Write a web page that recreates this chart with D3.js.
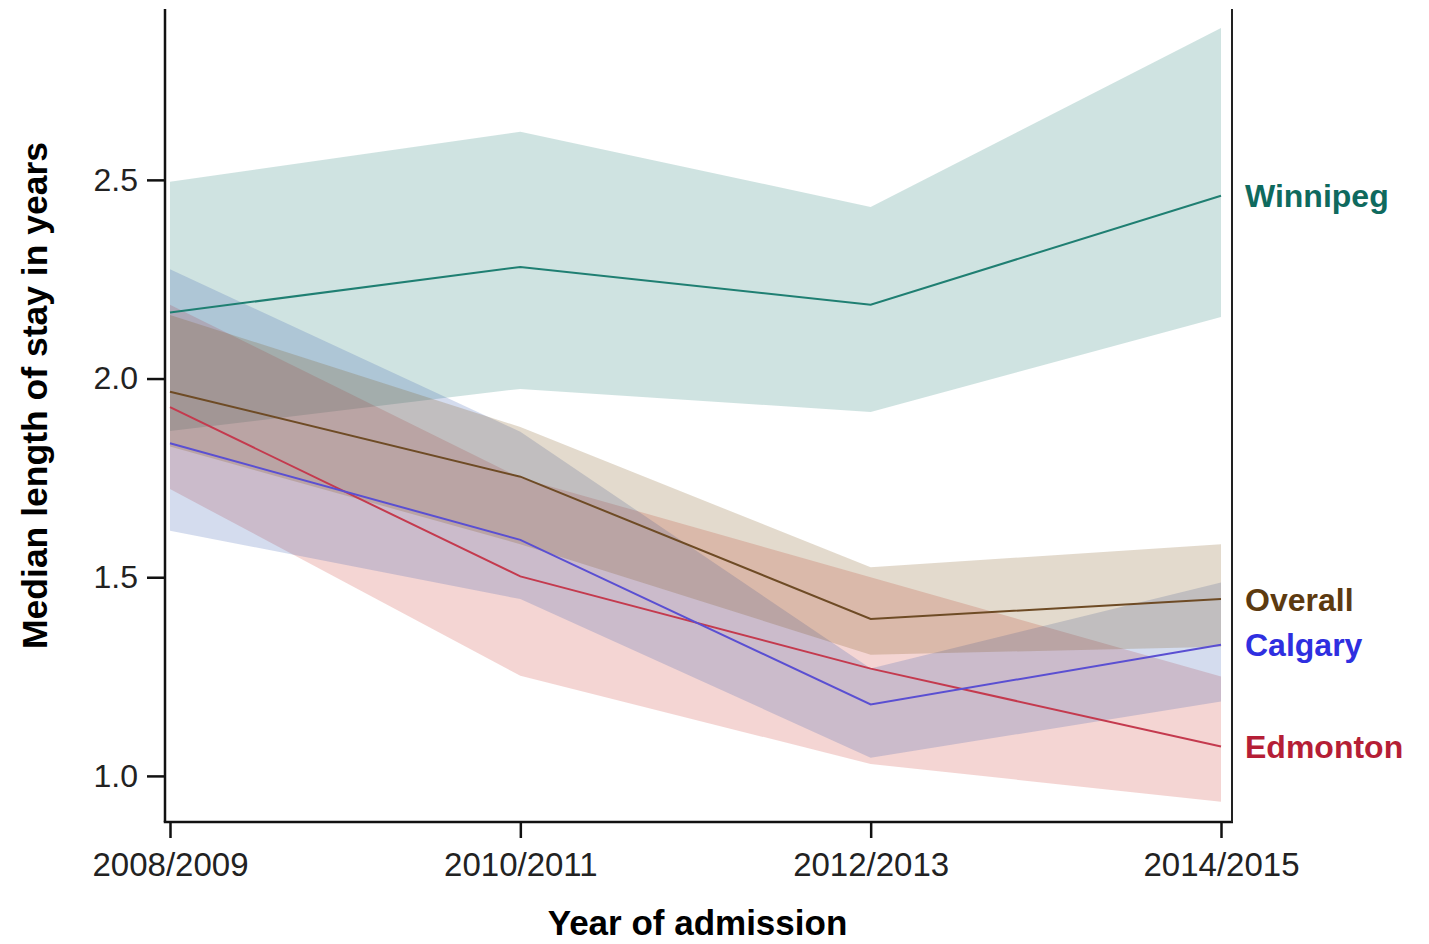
<!DOCTYPE html>
<html>
<head>
<meta charset="utf-8">
<script src="https://cdn.jsdelivr.net/npm/d3@7"></script>
<style>
  html, body { margin: 0; padding: 0; background: #fff; }
  svg { display: block; font-family: "Liberation Sans", Arial, sans-serif; }
</style>
</head>
<body>
<svg id="chart" width="1429" height="944"></svg>
<script>
// Admission periods on the x axis
const categories = ["2008/2009", "2010/2011", "2012/2013", "2014/2015"];

// Median length of stay (years) with 95% confidence limits, by site
const winnipegMedian = [2.166, 2.281, 2.186, 2.460];
const winnipegLower  = [1.868, 1.974, 1.916, 2.155];
const winnipegUpper  = [2.495, 2.621, 2.432, 2.882];

const calgaryMedian  = [1.837, 1.594, 1.180, 1.330];
const calgaryLower   = [1.617, 1.445, 1.046, 1.187];
const calgaryUpper   = [2.275, 1.866, 1.270, 1.487];

const overallMedian  = [1.967, 1.753, 1.395, 1.445];
const overallLower   = [1.829, 1.583, 1.305, 1.325];
const overallUpper   = [2.160, 1.878, 1.525, 1.583];

const edmontonMedian = [1.928, 1.502, 1.270, 1.074];
const edmontonLower  = [1.722, 1.252, 1.030, 0.935];
const edmontonUpper  = [2.186, 1.750, 1.500, 1.250];

const yTicks = [1.0, 1.5, 2.0, 2.5];
const yDomain = [0.884, 2.930];

const series = [
  { name: "Winnipeg", median: winnipegMedian, lower: winnipegLower, upper: winnipegUpper,
    band: "rgb(30,125,115)", line: "#1f7f72", label: "#0f6a5e" },
  { name: "Edmonton", median: edmontonMedian, lower: edmontonLower, upper: edmontonUpper,
    band: "rgb(205,55,45)", line: "#c43a4e", label: "#b51e36" },
  { name: "Calgary", median: calgaryMedian, lower: calgaryLower, upper: calgaryUpper,
    band: "rgb(50,90,175)", line: "#5a4fd2", label: "#2f2fe0" },
  { name: "Overall", median: overallMedian, lower: overallLower, upper: overallUpper,
    band: "rgb(125,80,20)", line: "#6e4b25", label: "#5c3a10" }
];

const svg = d3.select("#chart");
const plot = { left: 165, right: 1232, top: 9, bottom: 822 };

const x = d3.scalePoint().domain(categories).range([plot.left + 5, plot.right - 11]);
const y = d3.scaleLinear().domain(yDomain).range([plot.bottom, plot.top]);

// Confidence bands
const area = d3.area()
  .x(d => x(d.c))
  .y0(d => y(d.lo))
  .y1(d => y(d.hi));

series.forEach(s => {
  const pts = categories.map((c, i) => ({ c, lo: s.lower[i], hi: s.upper[i] }));
  svg.append("path")
    .datum(pts)
    .attr("d", area)
    .attr("fill", s.band)
    .attr("fill-opacity", 0.21);
});

// Median lines
const line = d3.line().x(d => x(d.c)).y(d => y(d.v));
series.forEach(s => {
  const pts = categories.map((c, i) => ({ c, v: s.median[i] }));
  svg.append("path")
    .datum(pts)
    .attr("d", line)
    .attr("fill", "none")
    .attr("stroke", s.line)
    .attr("stroke-width", 2);
});

// Series labels at the right end of each line
series.forEach(s => {
  svg.append("text")
    .attr("x", plot.right + 13)
    .attr("y", y(s.median[s.median.length - 1]))
    .attr("dy", "0.36em")
    .attr("fill", s.label)
    .attr("font-size", 32)
    .attr("font-weight", "bold")
    .text(s.name);
});

// Frame: left, bottom and right edges
svg.append("line")
  .attr("x1", plot.left).attr("x2", plot.left)
  .attr("y1", plot.top).attr("y2", plot.bottom)
  .attr("stroke", "#111").attr("stroke-width", 2.5);
svg.append("line")
  .attr("x1", plot.left - 1.25).attr("x2", plot.right + 1)
  .attr("y1", plot.bottom).attr("y2", plot.bottom)
  .attr("stroke", "#111").attr("stroke-width", 2.5);
svg.append("line")
  .attr("x1", plot.right).attr("x2", plot.right)
  .attr("y1", plot.top).attr("y2", plot.bottom)
  .attr("stroke", "#222").attr("stroke-width", 2);

// Y axis ticks and labels
const yAxis = d3.axisLeft(y)
  .tickValues(yTicks)
  .tickFormat(d3.format(".1f"))
  .tickSize(18)
  .tickPadding(9);
const gy = svg.append("g")
  .attr("transform", `translate(${plot.left},0)`)
  .call(yAxis);
gy.select(".domain").remove();
gy.selectAll(".tick line").attr("stroke", "#111").attr("stroke-width", 2.5);
gy.selectAll(".tick text")
  .attr("fill", "#222")
  .attr("font-size", 32)
  .attr("font-family", "'Liberation Sans', Arial, sans-serif");

// X axis ticks and labels
const xAxis = d3.axisBottom(x)
  .tickSize(16)
  .tickPadding(15);
const gx = svg.append("g")
  .attr("transform", `translate(0,${plot.bottom})`)
  .call(xAxis);
gx.select(".domain").remove();
gx.selectAll(".tick line").attr("stroke", "#111").attr("stroke-width", 2.5);
gx.selectAll(".tick text")
  .attr("fill", "#222")
  .attr("font-size", 33)
  .attr("font-family", "'Liberation Sans', Arial, sans-serif");

// Axis titles
svg.append("text")
  .attr("x", (plot.left + plot.right) / 2 - 1)
  .attr("y", 935)
  .attr("text-anchor", "middle")
  .attr("font-size", 35)
  .attr("font-weight", "bold")
  .attr("fill", "#000")
  .text("Year of admission");

svg.append("text")
  .attr("transform", `translate(47,${(y(yDomain[0]) + y(yDomain[1])) / 2 - 20}) rotate(-90)`)
  .attr("text-anchor", "middle")
  .attr("font-size", 35.5)
  .attr("font-weight", "bold")
  .attr("fill", "#000")
  .text("Median length of stay in years");
</script>
</body>
</html>
